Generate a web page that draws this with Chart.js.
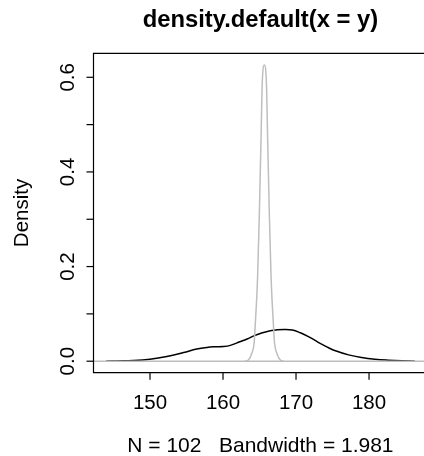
<!DOCTYPE html>
<html><head><meta charset="utf-8">
<script src="https://cdn.jsdelivr.net/npm/chart.js@4.4.1/dist/chart.umd.min.js"></script>
<style>html,body{margin:0;padding:0;background:#fff;}#wrap{width:424px;height:456px;position:relative;}</style>
</head><body><div id="wrap"><canvas id="c" width="424" height="456"></canvas></div>
<script>
const titleText = 'density.default(x = y)';
const xLabel = 'N = 102   Bandwidth = 1.981';
const yLabel = 'Density';
const xTicks = [150, 160, 170, 180];
const xTickLabels = ['150', '160', '170', '180'];
const yTicks = [0, 0.1, 0.2, 0.3, 0.4, 0.5, 0.6];
const yTickLabels = ['0.0', '', '0.2', '', '0.4', '', '0.6'];

// black density curve (x = y)
const densX = [143.97, 145.5, 147.7, 150.0, 152.3, 154.6, 156.4, 157.8, 159.0, 160.0, 161.0, 162.3, 163.3, 164.3, 165.2, 166.2, 167.3, 168.4, 169.5, 170.6, 171.7, 172.6, 173.5, 174.4, 175.3, 177.2, 179.0, 180.8, 182.6, 184.5, 186.3];
const densY = [0, 0.0005, 0.0014, 0.0042, 0.0099, 0.0183, 0.0258, 0.0292, 0.0305, 0.031, 0.0335, 0.041, 0.047, 0.054, 0.059, 0.0635, 0.066, 0.0672, 0.066, 0.060, 0.052, 0.044, 0.036, 0.029, 0.0226, 0.0134, 0.0078, 0.0042, 0.0021, 0.0007, 0];

// narrow gray density curve
const narrowX = [163.0, 163.47, 163.95, 164.26, 164.40, 164.74, 164.99, 165.21, 165.35, 165.66, 165.97, 166.11, 166.33, 166.58, 166.92, 167.06, 167.37, 167.85, 168.3];
const narrowY = [0, 0.0025, 0.017, 0.038, 0.073, 0.179, 0.32, 0.471, 0.577, 0.626, 0.577, 0.471, 0.32, 0.179, 0.073, 0.038, 0.017, 0.0025, 0];

// horizontal reference line at zero
const zeroX = [142.26, 187.99];
const zeroY = [0, 0];

const xRange = [142.26, 187.53];
const yRange = [-0.0243, 0.6507];

const FONT = '"Liberation Sans", Arial, Helvetica, sans-serif';
const GRAY = '#BEBEBE';

function pts(xs, ys) { return xs.map((x, i) => ({ x: x, y: ys[i] })); }

const axesPlugin = {
  id: 'rAxes',
  afterDraw(chart) {
    const ctx = chart.ctx;
    const a = chart.chartArea;
    const xs = chart.scales.x, ys = chart.scales.y;
    ctx.save();
    ctx.strokeStyle = '#000';
    ctx.fillStyle = '#000';
    ctx.lineWidth = 1.2;
    // box (right side lies beyond the canvas edge in the reference)
    ctx.beginPath();
    ctx.moveTo(a.right + 10, a.top); ctx.lineTo(a.left, a.top);
    ctx.lineTo(a.left, a.bottom); ctx.lineTo(a.right + 10, a.bottom);
    ctx.stroke();
    // x ticks
    ctx.font = '20.5px ' + FONT;
    ctx.textAlign = 'center';
    ctx.textBaseline = 'alphabetic';
    xTicks.forEach((v, i) => {
      const px = xs.getPixelForValue(v);
      ctx.beginPath(); ctx.moveTo(px, a.bottom); ctx.lineTo(px, a.bottom + 7); ctx.stroke();
      ctx.fillText(xTickLabels[i], px, 408.5);
    });
    // y ticks
    yTicks.forEach((v, i) => {
      const py = ys.getPixelForValue(v);
      ctx.beginPath(); ctx.moveTo(a.left - 7, py); ctx.lineTo(a.left, py); ctx.stroke();
      if (yTickLabels[i]) {
        ctx.save();
        ctx.translate(74.3, py);
        ctx.rotate(-Math.PI / 2);
        ctx.fillText(yTickLabels[i], 0, 0);
        ctx.restore();
      }
    });
    // y label
    ctx.save();
    ctx.translate(28, (a.top + a.bottom) / 2);
    ctx.rotate(-Math.PI / 2);
    ctx.fillText(yLabel, 0, 0);
    ctx.restore();
    // x label and title, centred on the full plot region
    const fullRight = xs.getPixelForValue(187.99);
    const cx = (a.left + fullRight) / 2;
    ctx.font = '21px ' + FONT;
    ctx.fillText(xLabel, cx, 451.7);
    ctx.font = 'bold 23.8px ' + FONT;
    ctx.fillText(titleText, cx, 27.3);
    ctx.restore();
  }
};

new Chart(document.getElementById('c'), {
  type: 'line',
  data: {
    datasets: [
      { label: 'narrow', data: pts(narrowX, narrowY), borderColor: GRAY, borderWidth: 1.5, order: 0, cubicInterpolationMode: 'monotone' },
      { label: 'zero', data: pts(zeroX, zeroY), borderColor: GRAY, borderWidth: 1.5, order: 1 },
      { label: 'density', data: pts(densX, densY), borderColor: '#000', borderWidth: 1.5, order: 2, tension: 0.4 }
    ]
  },
  options: {
    responsive: false,
    animation: false,
    devicePixelRatio: 1,
    layout: { padding: { left: 93.5, top: 53.3, right: 0, bottom: 83.3 } },
    elements: { point: { radius: 0 }, line: { fill: false } },
    scales: {
      x: { type: 'linear', display: false, min: xRange[0], max: xRange[1] },
      y: { type: 'linear', display: false, min: yRange[0], max: yRange[1] }
    },
    plugins: { legend: { display: false }, tooltip: { enabled: false }, title: { display: false } }
  },
  plugins: [axesPlugin]
});
</script></body></html>
